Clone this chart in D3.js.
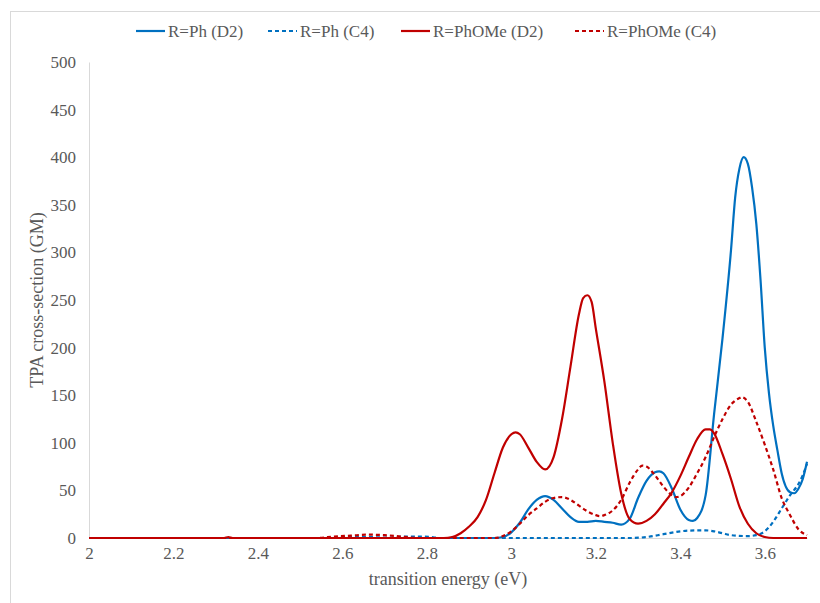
<!DOCTYPE html>
<html>
<head>
<meta charset="utf-8">
<script src="https://cdn.jsdelivr.net/npm/d3@7"></script>
<style>
  body { margin: 0; background: #fff; }
</style>
</head>
<body>
<svg id="chart" width="820" height="603"></svg>
<script>
// R=Ph (D2)
const phD2E = [2.0, 2.9, 2.96, 2.98, 3.00, 3.02, 3.04, 3.06, 3.08, 3.10, 3.12, 3.14, 3.16, 3.18, 3.20, 3.22, 3.24, 3.26, 3.28, 3.30, 3.32, 3.34, 3.35, 3.36, 3.38, 3.40, 3.42, 3.43, 3.44, 3.46, 3.48, 3.50, 3.52, 3.53, 3.54, 3.55, 3.56, 3.57, 3.58, 3.59, 3.60, 3.61, 3.62, 3.63, 3.64, 3.66, 3.67, 3.68, 3.69, 3.70];
const phD2V = [0, 0, 0, 1, 6, 16, 30, 40, 44, 40, 31, 22, 17, 17, 18, 17, 16, 14, 20, 42, 60, 69, 70, 68, 52, 30, 19, 18, 21, 45, 130, 210, 302, 358, 388, 400, 393, 368, 330, 271, 200, 152, 118, 92, 68, 48, 47, 52, 62, 80];

// R=Ph (C4)
const phC4E = [2.0, 2.58, 2.60, 2.66, 2.70, 2.72, 2.74, 2.78, 2.81, 2.83, 3.28, 3.32, 3.36, 3.40, 3.44, 3.46, 3.48, 3.50, 3.52, 3.56, 3.58, 3.60, 3.62, 3.64, 3.66, 3.68, 3.69, 3.70];
const phC4V = [0, 0, 1, 1, 0.5, 0.5, 1.5, 1.5, 1, 0, 0, 1, 4, 7, 8, 8, 7, 5, 3, 2, 3, 7, 17, 31, 45, 57, 66, 78];

// R=PhOMe (D2)
const pomD2E = [2.0, 2.32, 2.33, 2.34, 2.84, 2.86, 2.88, 2.90, 2.92, 2.94, 2.96, 2.98, 3.00, 3.01, 3.02, 3.04, 3.06, 3.08, 3.10, 3.12, 3.14, 3.16, 3.17, 3.18, 3.19, 3.20, 3.22, 3.24, 3.26, 3.28, 3.30, 3.32, 3.34, 3.36, 3.38, 3.40, 3.42, 3.44, 3.46, 3.47, 3.48, 3.50, 3.52, 3.54, 3.56, 3.58, 3.60, 3.62, 3.70];
const pomD2V = [0, 0, 1, 0, 0, 1, 5, 12, 22, 40, 68, 95, 109, 111, 109, 95, 80, 72, 85, 125, 180, 235, 252, 255, 248, 220, 165, 100, 47, 20, 15, 18, 25, 36, 48, 65, 85, 104, 114, 114, 110, 88, 62, 33, 15, 5, 1, 0, 0];

// R=PhOMe (C4)
const pomC4E = [2.0, 2.54, 2.58, 2.62, 2.66, 2.70, 2.74, 2.78, 2.96, 2.98, 3.00, 3.02, 3.04, 3.06, 3.08, 3.10, 3.12, 3.14, 3.16, 3.18, 3.20, 3.21, 3.22, 3.24, 3.26, 3.28, 3.30, 3.31, 3.32, 3.34, 3.36, 3.38, 3.39, 3.40, 3.42, 3.44, 3.46, 3.48, 3.50, 3.52, 3.54, 3.545, 3.56, 3.58, 3.60, 3.62, 3.64, 3.66, 3.68, 3.70];
const pomC4V = [0, 0, 1.5, 2.5, 3.5, 3, 1.5, 0, 0, 2, 7, 15, 24, 31, 38, 42, 43, 40, 34, 28, 24, 23, 24, 29, 40, 58, 72, 76, 75, 66, 54, 45, 43, 44, 53, 68, 85, 106, 125, 140, 147, 148, 143, 122, 98, 72, 42, 24, 9, 3];

const xTicks = [2, 2.2, 2.4, 2.6, 2.8, 3, 3.2, 3.4, 3.6];
const yTicks = [0, 50, 100, 150, 200, 250, 300, 350, 400, 450, 500];

const series = [
  { name: "R=Ph (D2)", e: phD2E, v: phD2V, color: "#0070C0", dash: null },
  { name: "R=Ph (C4)", e: phC4E, v: phC4V, color: "#0070C0", dash: "4,3" },
  { name: "R=PhOMe (D2)", e: pomD2E, v: pomD2V, color: "#C00000", dash: null },
  { name: "R=PhOMe (C4)", e: pomC4E, v: pomC4V, color: "#C00000", dash: "4,3" }
];

const svg = d3.select("#chart");
const plotLeft = 89, plotRight = 807, plotTop = 62, plotBottom = 538;
const serif = "Liberation Serif";
const grey = "#595959";

const x = d3.scaleLinear().domain([2, 3.7]).range([plotLeft, plotRight]);
const y = d3.scaleLinear().domain([0, 500]).range([plotBottom, plotTop]);

// chart border (runs off the right and bottom edge)
svg.append("rect")
  .attr("x", 10.5).attr("y", 11.5)
  .attr("width", 900).attr("height", 700)
  .attr("fill", "none").attr("stroke", "#d9d9d9");

// axes
const yAxis = svg.append("g")
  .attr("transform", `translate(${plotLeft},0)`)
  .call(d3.axisLeft(y).tickValues(yTicks).tickSize(0).tickPadding(13).tickFormat(d3.format("d")));
yAxis.select(".domain").attr("stroke", "#d9d9d9");

const xAxis = svg.append("g")
  .attr("transform", `translate(0,${plotBottom})`)
  .call(d3.axisBottom(x).tickValues(xTicks).tickSize(0).tickPadding(9).tickFormat(d => String(d)));
xAxis.select(".domain").attr("stroke", "#d9d9d9");

svg.selectAll(".tick text")
  .attr("font-family", serif)
  .attr("font-size", 17)
  .attr("fill", grey);

// axis titles
svg.append("text")
  .attr("x", (plotLeft + plotRight) / 2).attr("y", 585)
  .attr("text-anchor", "middle")
  .attr("font-family", serif)
  .attr("font-size", 18)
  .attr("fill", grey)
  .text("transition energy (eV)");

svg.append("text")
  .attr("transform", `translate(43,${(plotTop + plotBottom) / 2}) rotate(-90)`)
  .attr("text-anchor", "middle")
  .attr("font-family", serif)
  .attr("font-size", 18)
  .attr("fill", grey)
  .text("TPA cross-section (GM)");

// curves
const line = d3.line()
  .x(d => x(d[0]))
  .y(d => y(d[1]))
  .curve(d3.curveMonotoneX);

series.forEach(s => {
  const pts = s.e.map((e, i) => [e, s.v[i]]);
  svg.append("path")
    .datum(pts)
    .attr("d", line)
    .attr("fill", "none")
    .attr("stroke", s.color)
    .attr("stroke-width", 2.2)
    .attr("stroke-dasharray", s.dash);
});

// legend
const legendX = [136, 268, 401, 575];
const legend = svg.append("g");
series.forEach((s, i) => {
  const g = legend.append("g").attr("transform", `translate(${legendX[i]},31)`);
  g.append("line")
    .attr("x1", 0).attr("x2", 29)
    .attr("stroke", s.color)
    .attr("stroke-width", 2.2)
    .attr("stroke-dasharray", s.dash);
  g.append("text")
    .attr("x", 32).attr("y", 6)
    .attr("font-family", serif)
    .attr("font-size", 17)
    .attr("fill", grey)
    .text(s.name);
});
</script>
</body>
</html>
